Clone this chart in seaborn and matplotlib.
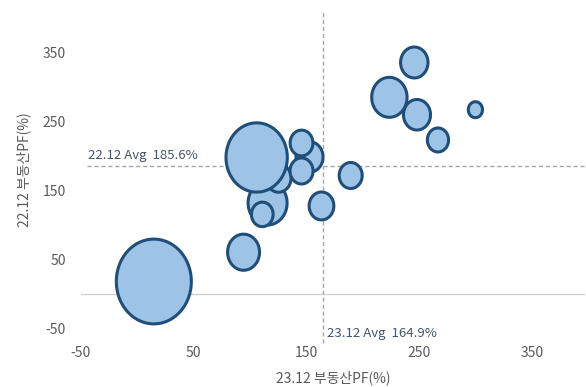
import numpy as np
import pandas as pd
import matplotlib
matplotlib.use("Agg")
import matplotlib.pyplot as plt
from matplotlib.path import Path
import seaborn as sns

# Real-estate PF ratio (%) at end of 2023 (x) and end of 2022 (y), bubble = relative size
pf_2312 = [105.8, 115.5, 125.2, 110.8, 152.7, 145.6, 145.6, 163.3, 189.2,
           94.2, 14.6, 223.5, 245.6, 248.0, 266.6, 299.8]
pf_2212 = [197.7, 132.0, 168.0, 115.5, 198.4, 178.2, 218.6, 127.7, 171.7,
           60.9, 18.6, 284.6, 334.9, 259.4, 223.0, 266.7]
bubble_size = [37.6, 15.2, 6.3, 4.7, 7.3, 5.3, 5.2, 6.1, 5.3,
               10.2, 56.3, 12.5, 7.5, 7.3, 4.5, 2.0]
draw_order = [1, 2, 0, 3, 4, 5, 6, 7, 8, 9, 10, 11, 12, 13, 14, 15]

avg_2312 = 164.9
avg_2212 = 185.6
x_ticks = [-50, 50, 150, 250, 350]
y_ticks = [-50, 50, 150, 250, 350]
x_label = "23.12 부동산PF(%)"
y_label = "22.12 부동산PF(%)"

df = pd.DataFrame({"x": pf_2312, "y": pf_2212, "size": bubble_size}).iloc[draw_order]

sns.set_theme(style="white")
plt.rcParams["font.family"] = ["Noto Sans CJK KR", "DejaVu Sans"]
plt.rcParams["axes.unicode_minus"] = False

FILL = "#9DC3E6"
EDGE = "#1F4E79"
TXT = "#595959"
NOTE = "#44546A"

fig = plt.figure(figsize=(5.86, 3.87), dpi=100)
ax = fig.add_axes([0.1382, 0.1499, 0.8601, 0.823])

# slightly tall ellipse marker
theta = np.linspace(0, 2 * np.pi, 97)
ellipse = Path(np.column_stack([np.cos(theta), 1.13 * np.sin(theta)]), closed=True)

smax = max(bubble_size)
sns.scatterplot(data=df, x="x", y="y", size="size",
                sizes=(0, smax * 66.2), size_norm=(0, smax),
                marker=ellipse, color=FILL, edgecolor=EDGE, linewidth=2.2,
                alpha=1, legend=False, ax=ax, clip_on=False, zorder=3)

ax.set_xlim(-50, 397)
ax.set_ylim(-50, 410)

# zero line and average reference lines
ax.axhline(0, color="#D0D0D0", lw=1.0, zorder=1)
ax.plot([avg_2312, avg_2312], [-70, 410], color="#A6A6A6", lw=1.0,
        ls=(0, (3, 2)), clip_on=False, zorder=2)
ax.plot([-45, 397], [avg_2212, avg_2212], color="#A6A6A6", lw=1.0,
        ls=(0, (3, 2)), clip_on=False, zorder=2)

ax.text(-44, avg_2212 + 5, f"22.12 Avg  {avg_2212}%", color=NOTE,
        fontsize=9.5, ha="left", va="bottom", zorder=4)
ax.text(avg_2312 + 3, -56, f"23.12 Avg  {avg_2312}%", color=NOTE,
        fontsize=9.5, ha="left", va="center", zorder=4, clip_on=False)

ax.set_xticks(x_ticks)
ax.set_yticks(y_ticks)
ax.tick_params(axis="both", length=0, colors=TXT, labelsize=10)
ax.tick_params(axis="x", pad=12)
ax.tick_params(axis="y", pad=11)
ax.set_xlabel(x_label, color=TXT, fontsize=10, labelpad=8)
ax.set_ylabel(y_label, color=TXT, fontsize=10, labelpad=8)
sns.despine(ax=ax, left=True, bottom=True, top=True, right=True)
ax.grid(False)

fig.savefig("out.png", dpi=100)
